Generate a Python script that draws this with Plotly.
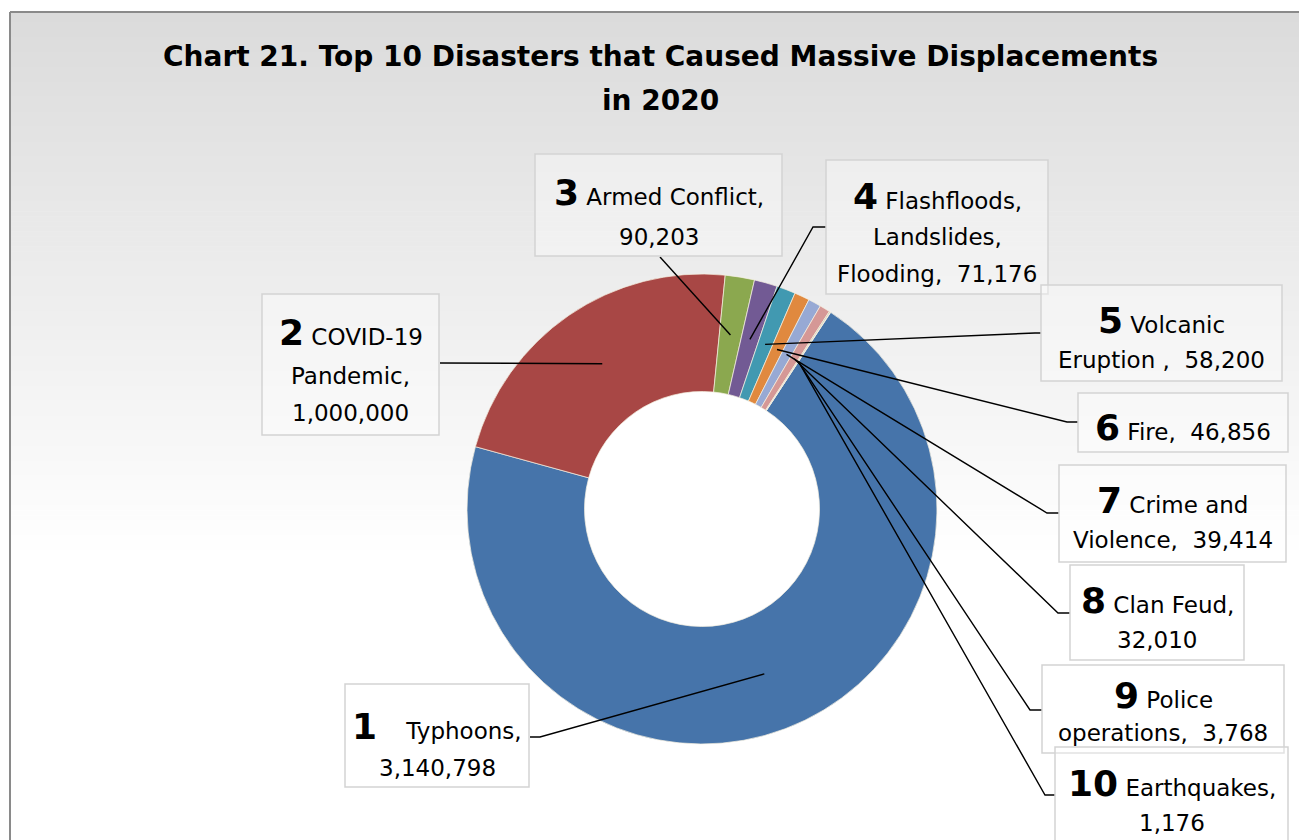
import math
import plotly.graph_objects as go

W, H = 1299, 840

# ---------------- data ----------------
categories = ["Typhoons", "COVID-19 Pandemic", "Armed Conflict",
              "Flashfloods, Landslides, Flooding", "Volcanic Eruption", "Fire",
              "Crime and Violence", "Clan Feud", "Police operations", "Earthquakes"]
values = [3140798, 1000000, 90203, 71176, 58200, 46856, 39414, 32010, 3768, 1176]
ranks = [1, 2, 3, 4, 5, 6, 7, 8, 9, 10]
colors = ["#4674AA", "#A84745", "#8BA84F", "#725A94", "#4199B1",
          "#E0893F", "#97A9D4", "#D59896", "#C9C3A0", "#B2A3C8"]

title_lines = ["Chart 21. Top 10 Disasters that Caused Massive Displacements", "in 2020"]

# label text layout (line breaks as in the original)
label_lines = [
    ["{r}\u00a0\u00a0\u00a0 Typhoons,", "{v}"],
    ["{r} COVID-19", "Pandemic,", "{v}"],
    ["{r} Armed Conflict,", "{v}"],
    ["{r} Flashfloods,", "Landslides,", "Flooding,\u00a0 {v}"],
    ["{r} Volcanic", "Eruption ,\u00a0 {v}"],
    ["{r} Fire,\u00a0 {v}"],
    ["{r} Crime and", "Violence,\u00a0 {v}"],
    ["{r} Clan Feud,", "{v}"],
    ["{r} Police", "operations,\u00a0 {v}"],
    ["{r} Earthquakes,", "{v}"],
]

# ---------------- layout geometry (pixels, y down) ----------------
CX, CY, R_OUT = 702, 509, 235
HOLE = 0.5
ROTATION = 33.2

boxes = [
    (345, 684, 529, 787),
    (262, 294, 439, 435),
    (535, 154, 782, 256),
    (826, 160, 1048, 294),
    (1041, 285, 1282, 381),
    (1078, 393, 1288, 452),
    (1059, 465, 1286, 562),
    (1070, 565, 1244, 660),
    (1042, 665, 1284, 753),
    (1055, 747, 1288, 852),
]
line_ys = [[726, 768], [333, 376, 413], [193, 237], [196, 237, 274], [320, 360],
           [427], [500, 540], [600, 640], [695, 733], [783, 823]]
attach = [(530, 737), (440, 363), (660, 257), (826, 227), (1041, 333),
          (1078, 422), (1059, 513), (1070, 613), (1042, 710), (1055, 795)]
elbow = [(540, 737), None, None, (813, 227), (1035, 333),
         (1067, 422), (1047, 513), (1058, 613), (1030, 710), (1045, 795)]

FONT = "DejaVu Sans"


def px(x):
    return x / W


def py(y):
    return 1 - y / H


fig = go.Figure()

fig.add_trace(go.Pie(
    labels=categories, values=values, hole=HOLE, sort=False,
    direction="clockwise", rotation=ROTATION,
    marker=dict(colors=colors, line=dict(color="rgba(245,240,225,0.9)", width=0.8)),
    textinfo="none", hoverinfo="label+value", showlegend=False,
    domain=dict(x=[px(CX - R_OUT), px(CX + R_OUT)], y=[py(CY + R_OUT), py(CY - R_OUT)]),
))

shapes = []
# background gradient (grey at top to white)
g_top, g_bot = 12, 560
n = 110
step = (g_bot - g_top) / n
for i in range(n):
    y0 = g_top + i * step
    t = i / (n - 1)
    c = int(round(219 + (255 - 219) * t))
    shapes.append(dict(type="rect", xref="paper", yref="paper", layer="below",
                       x0=px(10), x1=1, y0=py(y0), y1=py(y0 + step + 0.6),
                       line=dict(width=0), fillcolor=f"rgb({c},{c},{c})"))
# white donut hole
r_in = R_OUT * HOLE
shapes.append(dict(type="circle", xref="paper", yref="paper", layer="below",
                   x0=px(CX - r_in), x1=px(CX + r_in), y0=py(CY + r_in), y1=py(CY - r_in),
                   line=dict(width=0), fillcolor="white"))
# frame
shapes.append(dict(type="line", xref="paper", yref="paper", x0=px(10), x1=px(10),
                   y0=py(12), y1=0, line=dict(color="#8a8a8a", width=2), layer="below"))
shapes.append(dict(type="line", xref="paper", yref="paper", x0=px(10), x1=1,
                   y0=py(12), y1=py(12), line=dict(color="#8a8a8a", width=2), layer="below"))

# leader lines from label boxes to slice midpoints (computed from data)
total = sum(values)
r_mid = (R_OUT + r_in) / 2
cum = 0.0
anchors = []
for v in values:
    ang = math.radians(ROTATION + (cum + v / 2) / total * 360)
    anchors.append((CX + r_mid * math.sin(ang), CY - r_mid * math.cos(ang)))
    cum += v

for i in range(len(values)):
    ax_, ay_ = anchors[i]
    pts = [attach[i]]
    if elbow[i] is not None:
        pts.append(elbow[i])
    pts.append((ax_, ay_))
    path = "M " + " L ".join(f"{px(x):.5f},{py(y):.5f}" for x, y in pts)
    shapes.append(dict(type="path", xref="paper", yref="paper", path=path,
                       line=dict(color="black", width=1.4), layer="above"))

annotations = []
# boxes
for (x0, y0, x1, y1) in boxes:
    shapes.append(dict(type="rect", xref="paper", yref="paper", x0=px(x0), x1=px(x1),
                       y0=py(y1), y1=py(y0), line=dict(color="#d3d3d3", width=1.5),
                       fillcolor="rgba(255,255,255,0.35)", layer="above"))

# label text
for i in range(len(values)):
    x0, y0, x1, y1 = boxes[i]
    xc = (x0 + x1) / 2
    for j, tmpl in enumerate(label_lines[i]):
        rnk = f"<b><span style='font-size:36px'>{ranks[i]}</span></b>"
        txt = tmpl.replace("{r}", rnk).replace("{v}", f"{values[i]:,}")
        annotations.append(dict(xref="paper", yref="paper", x=px(xc), y=py(line_ys[i][j]),
                                text=txt, showarrow=False, xanchor="center", yanchor="middle",
                                font=dict(family=FONT, size=23, color="black")))

# title
for k, (t, y) in enumerate(zip(title_lines, [57, 100])):
    annotations.append(dict(xref="paper", yref="paper", x=px(660), y=py(y),
                            text=f"<b>{t}</b>", showarrow=False, xanchor="center",
                            yanchor="middle", font=dict(family=FONT, size=28, color="black")))

fig.update_layout(
    width=W, height=H, autosize=False,
    margin=dict(l=0, r=0, t=0, b=0),
    paper_bgcolor="white", plot_bgcolor="white",
    shapes=shapes, annotations=annotations,
    font=dict(family=FONT),
)

fig.write_html("out.html")
